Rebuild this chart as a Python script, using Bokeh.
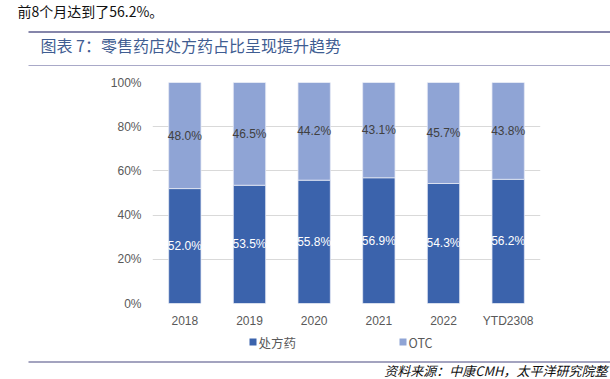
from bokeh.plotting import figure
from bokeh.models import (ColumnDataSource, Range1d, FixedTicker, PrintfTickFormatter)
from bokeh.embed import file_html
from bokeh.resources import INLINE
from bokeh.core.properties import value

# ---------------- data ----------------
years = ["2018", "2019", "2020", "2021", "2022", "YTD2308"]
rx_share = [52.0, 53.5, 55.8, 56.9, 54.3, 56.2]     # 处方药
otc_share = [48.0, 46.5, 44.2, 43.1, 45.7, 43.8]    # OTC
y_ticks = [0, 20, 40, 60, 80, 100]
series_names = ["处方药", "OTC"]
intro_text = "前8个月达到了56.2%。"
title_text = "图表 7：零售药店处方药占比呈现提升趋势"
source_text = "资料来源：中康CMH，太平洋研究院整"

# ---------------- styles ----------------
DARK = "#3b63ac"
LIGHT = "#8fa4d5"
RULE = "#8585aa"
RULE2 = "#a9a9c8"
TITLE_C = "#3f5d92"
GRAY = "#595959"
CJK = "Noto Sans CJK SC"
NUM = "Liberation Sans"
W, H = 610, 379
# frame placement in page pixels
FL, FR, FT, FB = 152, 540, 82, 303

pos = list(range(len(years)))

p = figure(width=W, height=H, x_range=Range1d(-0.5, len(years) - 0.5), y_range=Range1d(0, 100),
           output_backend="svg", toolbar_location=None,
           min_border_left=FL, min_border_right=W - FR,
           min_border_top=FT, min_border_bottom=H - FB)
p.outline_line_color = None
# page-pixel coordinate system for the decorations outside the plot frame
p.extra_x_ranges = {"page": Range1d(FL, FR)}
p.extra_y_ranges = {"page": Range1d(FB, FT)}

rs = p.vbar_stack(["rx", "otc"], x="pos", width=0.5, fill_color=[DARK, LIGHT],
                  line_color="#e4e9f4", line_width=0.8,
                  source=ColumnDataSource(dict(pos=pos, rx=rx_share, otc=otc_share)))

src = ColumnDataSource(dict(
    pos=pos,
    rx_mid=[v / 2 for v in rx_share],
    otc_mid=[r + o / 2 for r, o in zip(rx_share, otc_share)],
    rx_lbl=[f"{v:.1f}%" for v in rx_share],
    otc_lbl=[f"{v:.1f}%" for v in otc_share],
))
p.text(x="pos", y="rx_mid", text="rx_lbl", source=src, text_align="center",
       text_baseline="middle", text_color="white", text_font=value(NUM), text_font_size="12px")
p.text(x="pos", y="otc_mid", text="otc_lbl", source=src, text_align="center",
       text_baseline="middle", text_color="#404040", text_font=value(NUM), text_font_size="12px")

p.xgrid.grid_line_color = None
p.ygrid.grid_line_color = "#d9d9d9"
p.ygrid.grid_line_width = 1

p.xaxis.ticker = FixedTicker(ticks=pos)
p.xaxis.major_label_overrides = {i: y for i, y in zip(pos, years)}
p.yaxis.ticker = FixedTicker(ticks=y_ticks)
p.yaxis.formatter = PrintfTickFormatter(format="%d%%")
for ax in (p.xaxis, p.yaxis):
    ax.axis_line_color = None
    ax.major_tick_line_color = None
    ax.minor_tick_line_color = None
    ax.major_tick_out = 0
    ax.major_tick_in = 0
    ax.minor_tick_out = 0
    ax.major_label_text_font = NUM
    ax.major_label_text_font_size = "12px"
    ax.major_label_text_color = GRAY
p.yaxis.major_label_standoff = 11
p.xaxis.major_label_standoff = 10

# ---------------- header / footer / legend decorations (page pixels) ----------------
deco = dict(x_range_name="page", y_range_name="page", level="overlay")
p.text(x=[17], y=[10.5], text=[intro_text], text_font=value(CJK), text_font_size="14px",
       text_color="#111111", text_baseline="middle", text_align="left", **deco)
p.segment(x0=[28], y0=[31.5], x1=[W], y1=[31.5], line_color=RULE, line_width=2, **deco)
p.text(x=[40], y=[44.5], text=[title_text], text_font=value(CJK), text_font_size="16px",
       text_color=TITLE_C, text_baseline="middle", text_align="left", **deco)
p.segment(x0=[28], y0=[65], x1=[W], y1=[65], line_color=RULE2, line_width=1.2, **deco)

# legend
p.quad(left=[249, 399], right=[256, 406], top=[338, 338], bottom=[345, 345],
       fill_color=[DARK, LIGHT], line_color=None, **deco)
p.text(x=[258, 408], y=[341.5, 341.5], text=series_names, text_font=value(CJK),
       text_font_size="12.5px", text_color=GRAY, text_baseline="middle", text_align="left", **deco)

p.segment(x0=[28], y0=[361.5], x1=[W], y1=[361.5], line_color=RULE, line_width=1.5, **deco)
p.text(x=[607], y=[370], text=[source_text], text_font=value(CJK), text_font_size="13px",
       text_font_style="italic", text_color="#111111", text_baseline="middle",
       text_align="right", **deco)

open("out.html", "w").write(file_html(p, INLINE))
